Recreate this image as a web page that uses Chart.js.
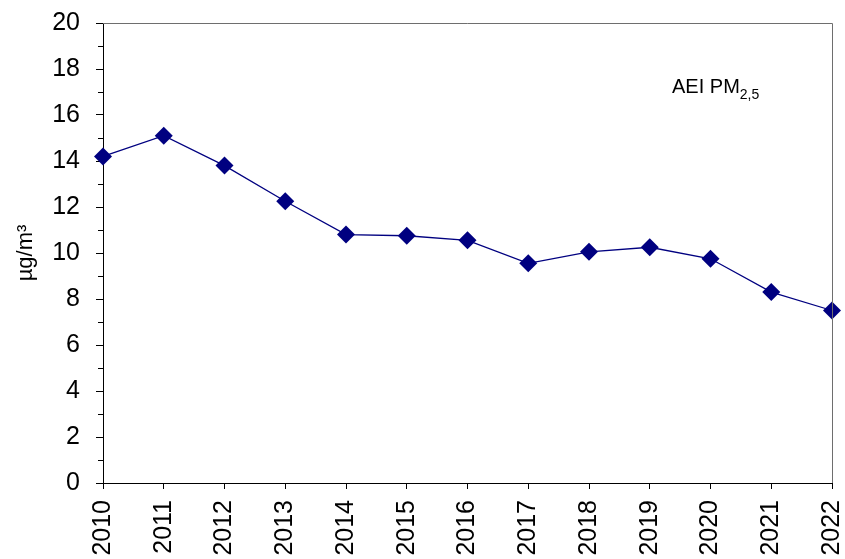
<!DOCTYPE html>
<html>
<head>
<meta charset="utf-8">
<script src="https://cdn.jsdelivr.net/npm/chart.js@4/dist/chart.umd.min.js"></script>
<style>
  html, body { margin: 0; padding: 0; background: #fff; }
  #wrap { width: 845px; height: 559px; position: relative; }
</style>
</head>
<body>
<div id="wrap"><canvas id="c" width="845" height="559"></canvas></div>
<script>
// Annual average exposure indicator, PM2.5 (µg/m³)
const years = ['2010','2011','2012','2013','2014','2015','2016','2017','2018','2019','2020','2021','2022'];
const pm25 = [14.2, 15.1, 13.8, 12.25, 10.8, 10.75, 10.55, 9.55, 10.05, 10.25, 9.75, 8.3, 7.5];
const yTicksMajor = [0, 2, 4, 6, 8, 10, 12, 14, 16, 18, 20];

const FONT = '"Liberation Sans", Arial, sans-serif';
const NAVY = '#000080';

// frame on top/right, short minor ticks at odd values, and the series caption
const decor = {
  id: 'decor',
  afterDraw(chart) {
    const { ctx, chartArea: a, scales } = chart;
    ctx.save();
    // top and right frame lines
    ctx.strokeStyle = '#6e6e6e';
    ctx.lineWidth = 1;
    ctx.beginPath();
    ctx.moveTo(a.left, a.top + 0.5);
    ctx.lineTo(a.right + 0.5, a.top + 0.5);
    ctx.lineTo(a.right + 0.5, a.bottom);
    ctx.stroke();
    // minor ticks
    ctx.strokeStyle = '#000';
    ctx.beginPath();
    for (let v = 1; v < 20; v += 2) {
      const y = Math.round(scales.y.getPixelForValue(v)) + 0.5;
      ctx.moveTo(a.left - 5, y);
      ctx.lineTo(a.left, y);
    }
    ctx.stroke();
    // caption with subscript
    ctx.fillStyle = '#000';
    ctx.textBaseline = 'alphabetic';
    ctx.font = '20px ' + FONT;
    const x0 = a.right - 160;
    const base = a.top + 70;
    const main = 'AEI PM';
    ctx.fillText(main, x0, base);
    const w = ctx.measureText(main).width;
    ctx.font = '14px ' + FONT;
    ctx.fillText('2,5', x0 + w, base + 6);
    ctx.restore();
  }
};

new Chart(document.getElementById('c'), {
  type: 'line',
  data: {
    labels: years,
    datasets: [{
      data: pm25,
      borderColor: NAVY,
      borderWidth: 1.3,
      backgroundColor: NAVY,
      pointStyle: 'rectRot',
      pointRadius: 9,
      pointHoverRadius: 9,
      pointBorderWidth: 0,
      pointBackgroundColor: NAVY,
      tension: 0,
      clip: false
    }]
  },
  options: {
    responsive: false,
    animation: false,
    devicePixelRatio: 1,
    layout: { padding: { left: 0, right: 13, top: 23, bottom: 0 } },
    plugins: {
      legend: { display: false },
      tooltip: { enabled: false }
    },
    scales: {
      x: {
        type: 'category',
        offset: false,
        border: { display: true, color: '#000', width: 1 },
        grid: { display: true, drawOnChartArea: false, offset: false, tickLength: 6, color: '#000' },
        ticks: {
          minRotation: 90, maxRotation: 90, autoSkip: false, padding: 11,
          color: '#000', font: { family: FONT, size: 25 }
        },
        afterFit(scale) {
          scale.height = 76;
          scale.paddingLeft = 0;
          scale.paddingRight = 0;
        }
      },
      y: {
        min: 0, max: 20,
        border: { display: true, color: '#000', width: 1 },
        grid: { display: true, drawOnChartArea: false, tickLength: 7, color: '#000' },
        afterBuildTicks(scale) {
          scale.ticks = yTicksMajor.map(v => ({ value: v }));
        },
        ticks: {
          padding: 16, color: '#000', font: { family: FONT, size: 25 }
        },
        title: {
          display: true, text: 'µg/m³', color: '#000',
          font: { family: FONT, size: 22 }, padding: { top: 13, bottom: 0 }
        },
        afterFit(scale) {
          scale.width = 103;
          scale.paddingTop = 0;
          scale.paddingBottom = 0;
        }
      }
    }
  },
  plugins: [decor]
});
</script>
</body>
</html>
